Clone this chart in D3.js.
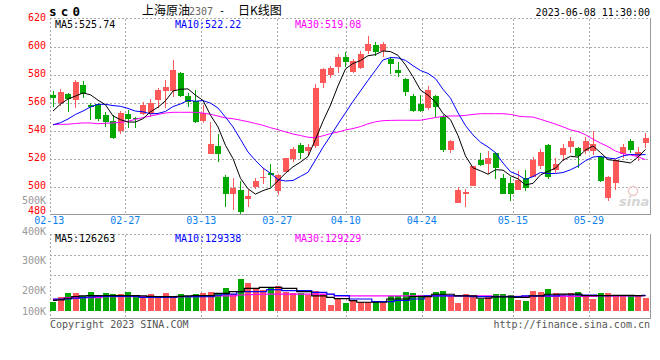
<!DOCTYPE html>
<html><head><meta charset="utf-8">
<script src="https://cdn.jsdelivr.net/npm/d3@7"></script>
<style>body{margin:0;background:#fff;} svg{display:block;}</style>
</head><body>
<svg id="c" width="660" height="360"></svg>
<script>
// ---------- data ----------
const dates = ["02-13","02-14","02-15","02-16","02-17","02-20","02-21","02-22","02-23","02-24",
"02-27","02-28","03-01","03-02","03-03","03-06","03-07","03-08","03-09","03-10",
"03-13","03-14","03-15","03-16","03-17","03-20","03-21","03-22","03-23","03-24",
"03-27","03-28","03-29","03-30","03-31","04-03","04-04","04-06","04-07","04-10",
"04-11","04-12","04-13","04-14","04-17","04-18","04-19","04-20","04-21","04-24",
"04-25","04-26","04-27","04-28","05-04","05-05","05-08","05-09","05-10","05-11",
"05-12","05-15","05-16","05-17","05-18","05-19","05-22","05-23","05-24","05-25",
"05-26","05-29","05-30","05-31","06-01","06-02","06-05","06-06","06-07","06-08"];
const open = [565.4,559.9,565.8,561.8,572.5,558.2,558.7,551.1,546.8,539.6,
551.8,549.0,551.5,552.0,561.8,568.2,568.5,581.1,564.6,561.1,
546.8,523.0,528.9,507.0,494.4,497.5,491.3,499.9,506.3,509.9,
497.0,510.6,519.6,529.6,525.4,529.2,574.2,579.9,585.6,592.3,
582.0,584.4,596.8,601.1,597.0,591.1,583.2,576.8,564.6,558.7,
556.3,564.6,549.4,526.1,488.5,494.4,500.4,518.9,516.1,524.2,
505.8,502.3,497.5,505.8,507.0,514.9,529.6,511.8,522.5,528.5,
527.3,525.4,525.4,520.8,492.0,502.7,523.2,532.5,522.0,531.3];
const high = [568.2,569.6,566.8,576.3,575.4,559.9,559.9,553.5,551.1,553.9,
554.6,549.9,560.6,562.3,570.6,576.1,590.4,582.0,566.5,568.9,
558.2,545.8,537.3,508.2,505.8,504.0,497.5,506.3,513.5,515.8,
508.7,520.6,528.5,531.3,530.6,573.2,584.9,586.3,594.4,595.8,
591.1,596.8,607.5,603.5,603.5,592.7,589.2,577.7,566.1,565.4,
571.7,565.4,551.1,533.2,499.4,498.2,514.6,524.2,525.4,524.9,
508.7,506.5,511.1,511.8,521.3,526.8,530.4,520.1,530.4,535.6,
528.5,535.1,539.9,522.0,507.7,519.4,530.6,533.7,528.5,538.5];
const low = [557.0,557.5,553.5,556.3,563.5,547.5,546.8,542.7,533.9,537.8,
542.0,542.0,551.1,549.9,555.8,555.8,564.2,563.7,557.0,545.6,
545.1,523.0,517.7,485.6,483.2,480.4,485.6,498.2,501.6,499.9,
494.0,510.1,517.7,519.6,522.0,527.3,570.6,577.7,581.3,585.6,
581.3,583.7,594.6,593.5,592.7,580.4,578.5,564.9,553.0,553.5,
554.6,549.9,524.9,524.2,488.5,485.6,500.4,514.9,508.7,505.4,
494.6,489.6,497.5,496.8,507.0,512.5,505.4,509.4,518.2,523.7,
513.5,523.0,522.5,502.9,489.9,497.5,520.1,523.7,518.2,527.8];
const close = [563.5,567.5,562.7,574.6,565.8,557.0,548.2,546.1,534.9,552.5,
548.5,548.2,558.2,559.4,568.9,571.3,583.2,564.6,560.6,546.3,
552.7,530.4,523.0,494.4,499.2,482.0,493.2,503.9,507.0,508.2,
508.2,520.1,526.8,523.7,528.2,570.1,584.2,584.6,592.3,588.7,
589.6,594.6,601.8,596.3,601.8,587.3,581.3,567.3,554.2,554.2,
568.9,557.0,526.1,532.5,497.5,496.0,514.6,515.4,520.4,513.5,
494.6,494.6,504.4,498.7,518.9,524.9,507.0,516.1,527.3,532.5,
522.0,532.5,530.4,503.9,507.0,518.9,528.2,526.1,524.9,534.4];
const ma5 = [553.9,558.9,562.5,564.6,566.82,565.52,561.66,558.34,550.40,547.74,
546.04,546.04,548.46,553.36,556.64,561.20,568.20,569.48,569.72,565.20,
561.48,550.92,542.60,529.36,519.94,505.80,498.36,494.54,497.06,498.86,
504.10,509.48,514.06,517.40,521.40,533.78,546.60,558.16,571.88,583.98,
587.88,589.96,593.40,594.20,596.82,596.36,593.70,586.80,578.38,568.86,
565.18,560.32,552.08,547.74,536.40,521.82,513.34,511.20,508.78,511.98,
511.70,507.70,505.50,501.16,502.24,508.30,510.78,513.12,518.84,521.56,
520.98,526.08,528.94,524.26,519.16,518.54,517.68,516.82,521.02,526.50];
const ma10 = [544.0,545.6,548.2,551.5,553.9,556.8,558.7,558.7,557.8,557.28,
555.78,553.85,553.40,551.88,552.19,553.62,557.12,558.97,561.54,560.92,
561.34,559.56,556.04,549.54,542.57,533.64,524.64,518.57,513.21,509.40,
504.95,503.92,504.30,507.23,510.13,518.94,528.04,536.11,544.64,552.69,
560.83,568.28,575.78,583.04,590.40,592.12,591.83,590.10,586.29,582.84,
580.77,577.01,569.44,563.06,552.63,543.50,536.83,531.64,528.26,524.19,
516.76,510.52,508.35,504.97,507.11,510.00,509.24,509.31,510.00,511.90,
514.64,518.43,521.03,521.55,520.36,519.76,521.88,522.88,522.64,522.83];
const ma30 = [544.4,544.4,544.5,545.0,545.4,545.4,544.8,545.2,545.4,545.8,
546.6,548.0,549.2,550.3,551.5,552.5,553.0,553.0,553.0,553.0,
552.4,551.6,550.3,549.0,548.4,547.4,546.3,545.0,543.7,542.0,
540.6,539.0,537.5,536.4,535.2,534.9,536.2,537.8,538.9,540.4,
541.4,542.8,544.8,546.2,547.0,547.2,547.3,547.3,547.3,547.3,
548.3,549.3,550.0,550.4,550.4,550.8,551.5,552.0,552.0,552.0,
552.0,551.5,550.3,549.8,549.6,548.0,546.3,544.6,542.6,540.5,
539.2,537.0,533.8,531.0,528.5,525.3,523.5,522.5,521.3,519.1];
// volume in thousands
const volume = [77,118,151,151,124,160,118,151,140,140,
160,124,124,140,124,151,127,140,124,140,
151,160,140,193,138,264,234,193,173,193,
206,160,151,151,132,165,138,50,105,69,
91,77,77,72,63,127,127,160,149,132,
124,160,168,121,69,140,124,99,118,140,
140,132,91,83,165,157,182,149,132,146,
157,124,99,149,149,127,127,124,132,110];
const vma5 = [88,92,105,118,124,127,127,127,127,127,
127,127,124,121,118,118,118,121,124,127,
127,127,146,146,160,160,187,187,195,195,
195,187,187,160,160,124,124,113,102,102,
85,72,72,72,72,99,99,99,118,118,
118,138,138,138,124,124,124,105,105,116,
116,116,113,113,124,124,138,138,140,140,
140,127,127,127,127,129,129,129,127,126];
const vma10 = [99,99,99,105,110,115,121,121,121,121,
121,121,113,113,113,113,113,118,118,118,
118,118,130,140,140,160,160,160,160,176,
176,168,168,168,168,154,154,140,127,127,
99,99,99,77,77,77,88,88,99,99,
124,124,124,124,124,124,118,118,118,118,
118,118,118,124,124,124,124,124,132,132,
132,132,132,127,127,127,127,127,127,129];
const vma30 = [96,96,110,110,110,110,110,118,118,118,
118,118,118,118,118,118,118,118,118,118,
124,124,124,124,124,132,134,136,138,140,
140,140,140,140,140,140,140,138,124,124,
124,124,124,124,124,124,124,124,124,124,
124,124,124,124,124,124,124,124,124,120,
120,120,120,120,120,120,120,120,120,120,
120,120,120,124,124,124,124,124,124,126];
const priceTicks = [620,600,580,560,540,520,500,480];
const volTicks = ["100K","200K","300K","400K","500K"];
const volTickVals = [100,200,300,400,500];
const dateTicks = ["02-13","02-27","03-13","03-27","04-10","04-24","05-15","05-29"];
const maLabels = ["MA5:525.74","MA10:522.22","MA30:519.08"];
const vmaLabels = ["MA5:126263","MA10:129338","MA30:129229"];

// ---------- drawing ----------
const svg = d3.select('#c');
const MONO = '"DejaVu Sans Mono", "Liberation Mono", monospace';
const RED = '#ff5858', GREEN = '#00a800';
const GRID = '#aaaaaa';
const L = 50, R = 650, T = 18.5, B = 214.5;
const VT = 234.5, VB = 318, VBASE = 311;
const n = dates.length;

const xBand = d3.scaleBand().domain(d3.range(n)).range([49.25, 649.25]).paddingInner(0.2).paddingOuter(0.1);
const bw = xBand.bandwidth();
const xc = i => xBand(i) + bw / 2;
const xPt = d3.scalePoint().domain(d3.range(n)).range([49.3, 649.7]);
const y = d3.scaleLinear().domain([480, 620]).range([B, T]);
const yv = d3.scaleLinear().domain([0, 400]).range([VBASE, VBASE - 400 / 8.25]);
const yvLabel = d3.scaleLinear().domain(volTickVals).range([311, 290.5, 260, 231.5, 200]);

// header
svg.append('text').attr('x', 49).attr('y', 16).attr('font-family', MONO).attr('font-weight', 'bold')
  .attr('font-size', 12.5).attr('letter-spacing', 4.2).attr('fill', '#000').text('sc0');
const tg = svg.append('g').attr('fill', '#000');
tg.append('text').attr('x', 142).attr('y', 15).attr('font-family', '"Noto Sans CJK SC"').attr('font-size', 12).text('上海原油');
tg.append('text').attr('x', 189).attr('y', 15).attr('font-family', MONO).attr('font-size', 10).attr('fill', '#666').text('2307');
tg.append('text').attr('x', 219).attr('y', 14).attr('font-family', MONO).attr('font-size', 10).text('-');
tg.append('text').attr('x', 238).attr('y', 15).attr('font-family', '"Noto Sans CJK SC"').attr('font-size', 12).text('日K线图');
svg.append('text').attr('x', 650).attr('y', 15.5).attr('text-anchor', 'end').attr('font-family', MONO)
  .attr('font-size', 10).attr('fill', '#000').text('2023-06-08 11:30:00');

// main grid
const grid = svg.append('g').attr('stroke', GRID).attr('stroke-dasharray', '2,2').attr('shape-rendering', 'crispEdges');
priceTicks.filter(v => v > 480 && v < 620).forEach(v => {
  grid.append('line').attr('x1', L).attr('x2', R).attr('y1', Math.round(y(v)) + 0.5).attr('y2', Math.round(y(v)) + 0.5);
});
dateTicks.slice(1).forEach(d => {
  const xx = Math.round(xPt(dates.indexOf(d))) + 0.5;
  grid.append('line').attr('x1', xx).attr('x2', xx).attr('y1', T).attr('y2', B);
  grid.append('line').attr('x1', xx).attr('x2', xx).attr('y1', VT).attr('y2', VB);
});
[255, 275].forEach(yy => grid.append('line').attr('x1', L).attr('x2', R).attr('y1', yy + 0.5).attr('y2', yy + 0.5));

// frames
function frame(top, bottom) {
  const g = svg.append('g').attr('shape-rendering', 'crispEdges').attr('fill', 'none');
  g.append('line').attr('x1', L + 0.5).attr('x2', L + 0.5).attr('y1', top).attr('y2', bottom).attr('stroke', GRID).attr('stroke-dasharray', '2,2');
  g.append('line').attr('x1', L).attr('x2', R).attr('y1', top + 0.5).attr('y2', top + 0.5).attr('stroke', GRID).attr('stroke-dasharray', '2,2');
  g.append('line').attr('x1', R + 0.5).attr('x2', R + 0.5).attr('y1', top).attr('y2', bottom + 1).attr('stroke', '#999');
  g.append('line').attr('x1', L).attr('x2', R + 1).attr('y1', bottom + 0.5).attr('y2', bottom + 0.5).attr('stroke', '#999');
}
frame(Math.floor(T), Math.floor(B));
frame(Math.floor(VT), VB);

// watermark
const wm = svg.append('g');
wm.append('circle').attr('cx', 633).attr('cy', 191).attr('r', 4.5).attr('fill', 'none').attr('stroke', '#f0c8c8').attr('stroke-width', 1.5);
wm.append('text').attr('x', 619).attr('y', 206).attr('font-family', '"DejaVu Sans"').attr('font-weight', 'bold')
  .attr('font-style', 'italic').attr('font-size', 13).attr('fill', '#d4d4d4').text('sina');

// price axis labels
svg.append('g').selectAll('text').data(priceTicks).join('text')
  .attr('x', 46).attr('y', v => Math.min(y(v) + 2, 213.5)).attr('text-anchor', 'end')
  .attr('font-family', MONO).attr('font-size', 10).attr('fill', '#ff0000').text(v => v);
// volume axis labels
svg.append('g').selectAll('text').data(volTickVals).join('text')
  .attr('x', 46).attr('y', (v) => yvLabel(v) + 3.6).attr('text-anchor', 'end')
  .attr('font-family', MONO).attr('font-size', 10).attr('fill', '#999').text((v, i) => volTicks[i]);
// date labels
svg.append('g').selectAll('text').data(dateTicks).join('text')
  .attr('x', d => xPt(dates.indexOf(d))).attr('y', 224).attr('text-anchor', 'middle')
  .attr('font-family', MONO).attr('font-size', 10).attr('fill', '#0a80f0').text(d => d);

// candles
const cg = svg.append('g').attr('shape-rendering', 'crispEdges');
d3.range(n).forEach(i => {
  const up = close[i] >= open[i];
  const col = up ? RED : GREEN;
  const wx = Math.floor(xc(i)) + 0.5;
  cg.append('line').attr('x1', wx).attr('x2', wx).attr('y1', y(high[i])).attr('y2', y(low[i])).attr('stroke', col);
  const top = y(Math.max(open[i], close[i])), bot = y(Math.min(open[i], close[i]));
  cg.append('rect').attr('x', xBand(i)).attr('width', bw).attr('y', top).attr('height', Math.max(1, bot - top)).attr('fill', col);
});

// MA lines
const line = d3.line().x((d, i) => xc(i)).y(d => y(d));
[[ma30, '#ff00ff'], [ma10, '#0000ff'], [ma5, '#000000']].forEach(([arr, c]) => {
  svg.append('path').attr('d', line(arr)).attr('fill', 'none').attr('stroke', c).attr('stroke-width', 1);
});

// MA labels
const maX = [55, 175, 295], maC = ['#000', '#0000ff', '#ff00ff'];
maLabels.forEach((t, k) => svg.append('text').attr('x', maX[k]).attr('y', 27.5).attr('font-family', MONO)
  .attr('font-size', 10).attr('fill', maC[k]).text(t));
vmaLabels.forEach((t, k) => svg.append('text').attr('x', maX[k]).attr('y', 242).attr('font-family', MONO)
  .attr('font-size', 10).attr('fill', maC[k]).text(t));

// volume bars
const vg = svg.append('g').attr('shape-rendering', 'crispEdges');
d3.range(n).forEach(i => {
  const up = close[i] >= open[i];
  vg.append('rect').attr('x', xBand(i)).attr('width', bw).attr('y', yv(volume[i]))
    .attr('height', VBASE - yv(volume[i])).attr('fill', up ? RED : GREEN);
});
const vline = d3.line().x((d, i) => xc(i)).y(d => yv(d)).curve(d3.curveStep);
[[vma30, '#ff00ff'], [vma10, '#0000ff'], [vma5, '#000000']].forEach(([arr, c]) => {
  svg.append('path').attr('d', vline(arr)).attr('fill', 'none').attr('stroke', c).attr('stroke-width', 1.2);
});

// footer
svg.append('text').attr('x', 50).attr('y', 328).attr('font-family', MONO).attr('font-size', 10).attr('fill', '#555')
  .text('Copyright 2023 SINA.COM');
svg.append('text').attr('x', 650).attr('y', 328).attr('text-anchor', 'end').attr('font-family', MONO).attr('font-size', 10)
  .attr('fill', '#555').text('http://finance.sina.com.cn');
</script>
</body></html>
